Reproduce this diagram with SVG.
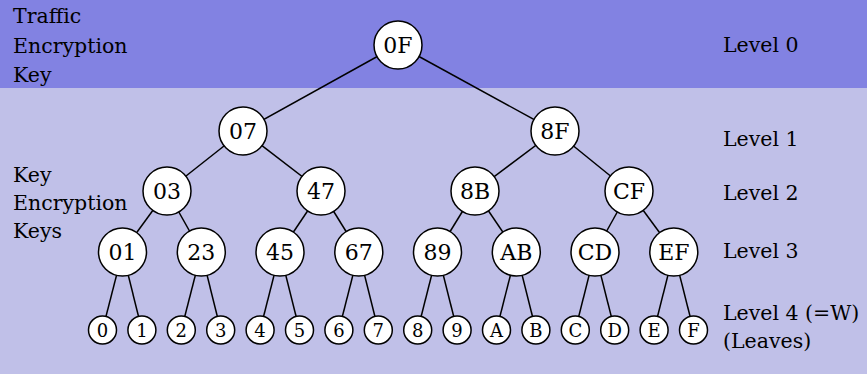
<svg xmlns="http://www.w3.org/2000/svg" width="867" height="374" viewBox="0 0 867 374">
<style>
.bg1{fill:#8282e2}
.bg2{fill:#c0c0e8}
.n{fill:#fff;stroke:#000;stroke-width:1.5}
text{fill:#000;font-family:"DejaVu Serif",serif}
.t{font-size:22px;text-anchor:middle}
.tl{font-size:18px;text-anchor:middle}
.lab{font-size:20.5px}
#edges line{stroke:#000;stroke-width:1.5}
</style>
<rect class="bg2" x="0" y="0" width="867" height="374"/>
<rect class="bg1" x="0" y="0" width="867" height="88"/>
<g id="labels">
<text class="lab" x="13" y="23">Traffic</text>
<text class="lab" x="13" y="53">Encryption</text>
<text class="lab" x="13" y="82">Key</text>
<text class="lab" x="13" y="182">Key</text>
<text class="lab" x="13" y="210">Encryption</text>
<text class="lab" x="13" y="238">Keys</text>
<text class="lab" x="723" y="52">Level 0</text>
<text class="lab" x="723" y="146">Level 1</text>
<text class="lab" x="723" y="200">Level 2</text>
<text class="lab" x="723" y="258">Level 3</text>
<text class="lab" x="723" y="320">Level 4 (=W)</text>
<text class="lab" x="723" y="348">(Leaves)</text>
</g>
<g id="edges">
<line x1="398" y1="45" x2="243" y2="131"/>
<line x1="398" y1="45" x2="555" y2="131"/>
<line x1="243" y1="131" x2="167" y2="191"/>
<line x1="243" y1="131" x2="321" y2="191"/>
<line x1="555" y1="131" x2="475" y2="191"/>
<line x1="555" y1="131" x2="629" y2="191"/>
<line x1="167" y1="191" x2="122.5" y2="252"/>
<line x1="167" y1="191" x2="201.3" y2="252"/>
<line x1="321" y1="191" x2="280" y2="252"/>
<line x1="321" y1="191" x2="358.8" y2="252"/>
<line x1="475" y1="191" x2="437.5" y2="252"/>
<line x1="475" y1="191" x2="516.3" y2="252"/>
<line x1="629" y1="191" x2="595" y2="252"/>
<line x1="629" y1="191" x2="673.8" y2="252"/>
<line x1="122.5" y1="252" x2="102.5" y2="330"/>
<line x1="122.5" y1="252" x2="141.9" y2="330"/>
<line x1="201.3" y1="252" x2="181.3" y2="330"/>
<line x1="201.3" y1="252" x2="220.7" y2="330"/>
<line x1="280" y1="252" x2="260.1" y2="330"/>
<line x1="280" y1="252" x2="299.5" y2="330"/>
<line x1="358.8" y1="252" x2="338.9" y2="330"/>
<line x1="358.8" y1="252" x2="378.3" y2="330"/>
<line x1="437.5" y1="252" x2="417.7" y2="330"/>
<line x1="437.5" y1="252" x2="457.1" y2="330"/>
<line x1="516.3" y1="252" x2="496.5" y2="330"/>
<line x1="516.3" y1="252" x2="535.9" y2="330"/>
<line x1="595" y1="252" x2="575.3" y2="330"/>
<line x1="595" y1="252" x2="614.7" y2="330"/>
<line x1="673.8" y1="252" x2="654.1" y2="330"/>
<line x1="673.8" y1="252" x2="693.5" y2="330"/>
</g>
<g id="n0F"><circle class="n" cx="398" cy="45" r="24"/><text class="t" x="398" y="53">0F</text></g>
<g id="n07"><circle class="n" cx="243" cy="131" r="24"/><text class="t" x="243" y="139">07</text></g>
<g id="n8F"><circle class="n" cx="555" cy="131" r="24"/><text class="t" x="555" y="139">8F</text></g>
<g id="n03"><circle class="n" cx="167" cy="191" r="24"/><text class="t" x="167" y="199">03</text></g>
<g id="n47"><circle class="n" cx="321" cy="191" r="24"/><text class="t" x="321" y="199">47</text></g>
<g id="n8B"><circle class="n" cx="475" cy="191" r="24"/><text class="t" x="475" y="199">8B</text></g>
<g id="nCF"><circle class="n" cx="629" cy="191" r="24"/><text class="t" x="629" y="199">CF</text></g>
<g id="n01"><circle class="n" cx="122.5" cy="252" r="24"/><text class="t" x="122.5" y="260">01</text></g>
<g id="n23"><circle class="n" cx="201.3" cy="252" r="24"/><text class="t" x="201.3" y="260">23</text></g>
<g id="n45"><circle class="n" cx="280" cy="252" r="24"/><text class="t" x="280" y="260">45</text></g>
<g id="n67"><circle class="n" cx="358.8" cy="252" r="24"/><text class="t" x="358.8" y="260">67</text></g>
<g id="n89"><circle class="n" cx="437.5" cy="252" r="24"/><text class="t" x="437.5" y="260">89</text></g>
<g id="nAB"><circle class="n" cx="516.3" cy="252" r="24"/><text class="t" x="516.3" y="260">AB</text></g>
<g id="nCD"><circle class="n" cx="595" cy="252" r="24"/><text class="t" x="595" y="260">CD</text></g>
<g id="nEF"><circle class="n" cx="673.8" cy="252" r="24"/><text class="t" x="673.8" y="260">EF</text></g>
<g id="l0"><circle class="n" cx="102.5" cy="330" r="14"/><text class="tl" x="102.5" y="336.5">0</text></g>
<g id="l1"><circle class="n" cx="141.9" cy="330" r="14"/><text class="tl" x="141.9" y="336.5">1</text></g>
<g id="l2"><circle class="n" cx="181.3" cy="330" r="14"/><text class="tl" x="181.3" y="336.5">2</text></g>
<g id="l3"><circle class="n" cx="220.7" cy="330" r="14"/><text class="tl" x="220.7" y="336.5">3</text></g>
<g id="l4"><circle class="n" cx="260.1" cy="330" r="14"/><text class="tl" x="260.1" y="336.5">4</text></g>
<g id="l5"><circle class="n" cx="299.5" cy="330" r="14"/><text class="tl" x="299.5" y="336.5">5</text></g>
<g id="l6"><circle class="n" cx="338.9" cy="330" r="14"/><text class="tl" x="338.9" y="336.5">6</text></g>
<g id="l7"><circle class="n" cx="378.3" cy="330" r="14"/><text class="tl" x="378.3" y="336.5">7</text></g>
<g id="l8"><circle class="n" cx="417.7" cy="330" r="14"/><text class="tl" x="417.7" y="336.5">8</text></g>
<g id="l9"><circle class="n" cx="457.1" cy="330" r="14"/><text class="tl" x="457.1" y="336.5">9</text></g>
<g id="lA"><circle class="n" cx="496.5" cy="330" r="14"/><text class="tl" x="496.5" y="336.5">A</text></g>
<g id="lB"><circle class="n" cx="535.9" cy="330" r="14"/><text class="tl" x="535.9" y="336.5">B</text></g>
<g id="lC"><circle class="n" cx="575.3" cy="330" r="14"/><text class="tl" x="575.3" y="336.5">C</text></g>
<g id="lD"><circle class="n" cx="614.7" cy="330" r="14"/><text class="tl" x="614.7" y="336.5">D</text></g>
<g id="lE"><circle class="n" cx="654.1" cy="330" r="14"/><text class="tl" x="654.1" y="336.5">E</text></g>
<g id="lF"><circle class="n" cx="693.5" cy="330" r="14"/><text class="tl" x="693.5" y="336.5">F</text></g>
</svg>
